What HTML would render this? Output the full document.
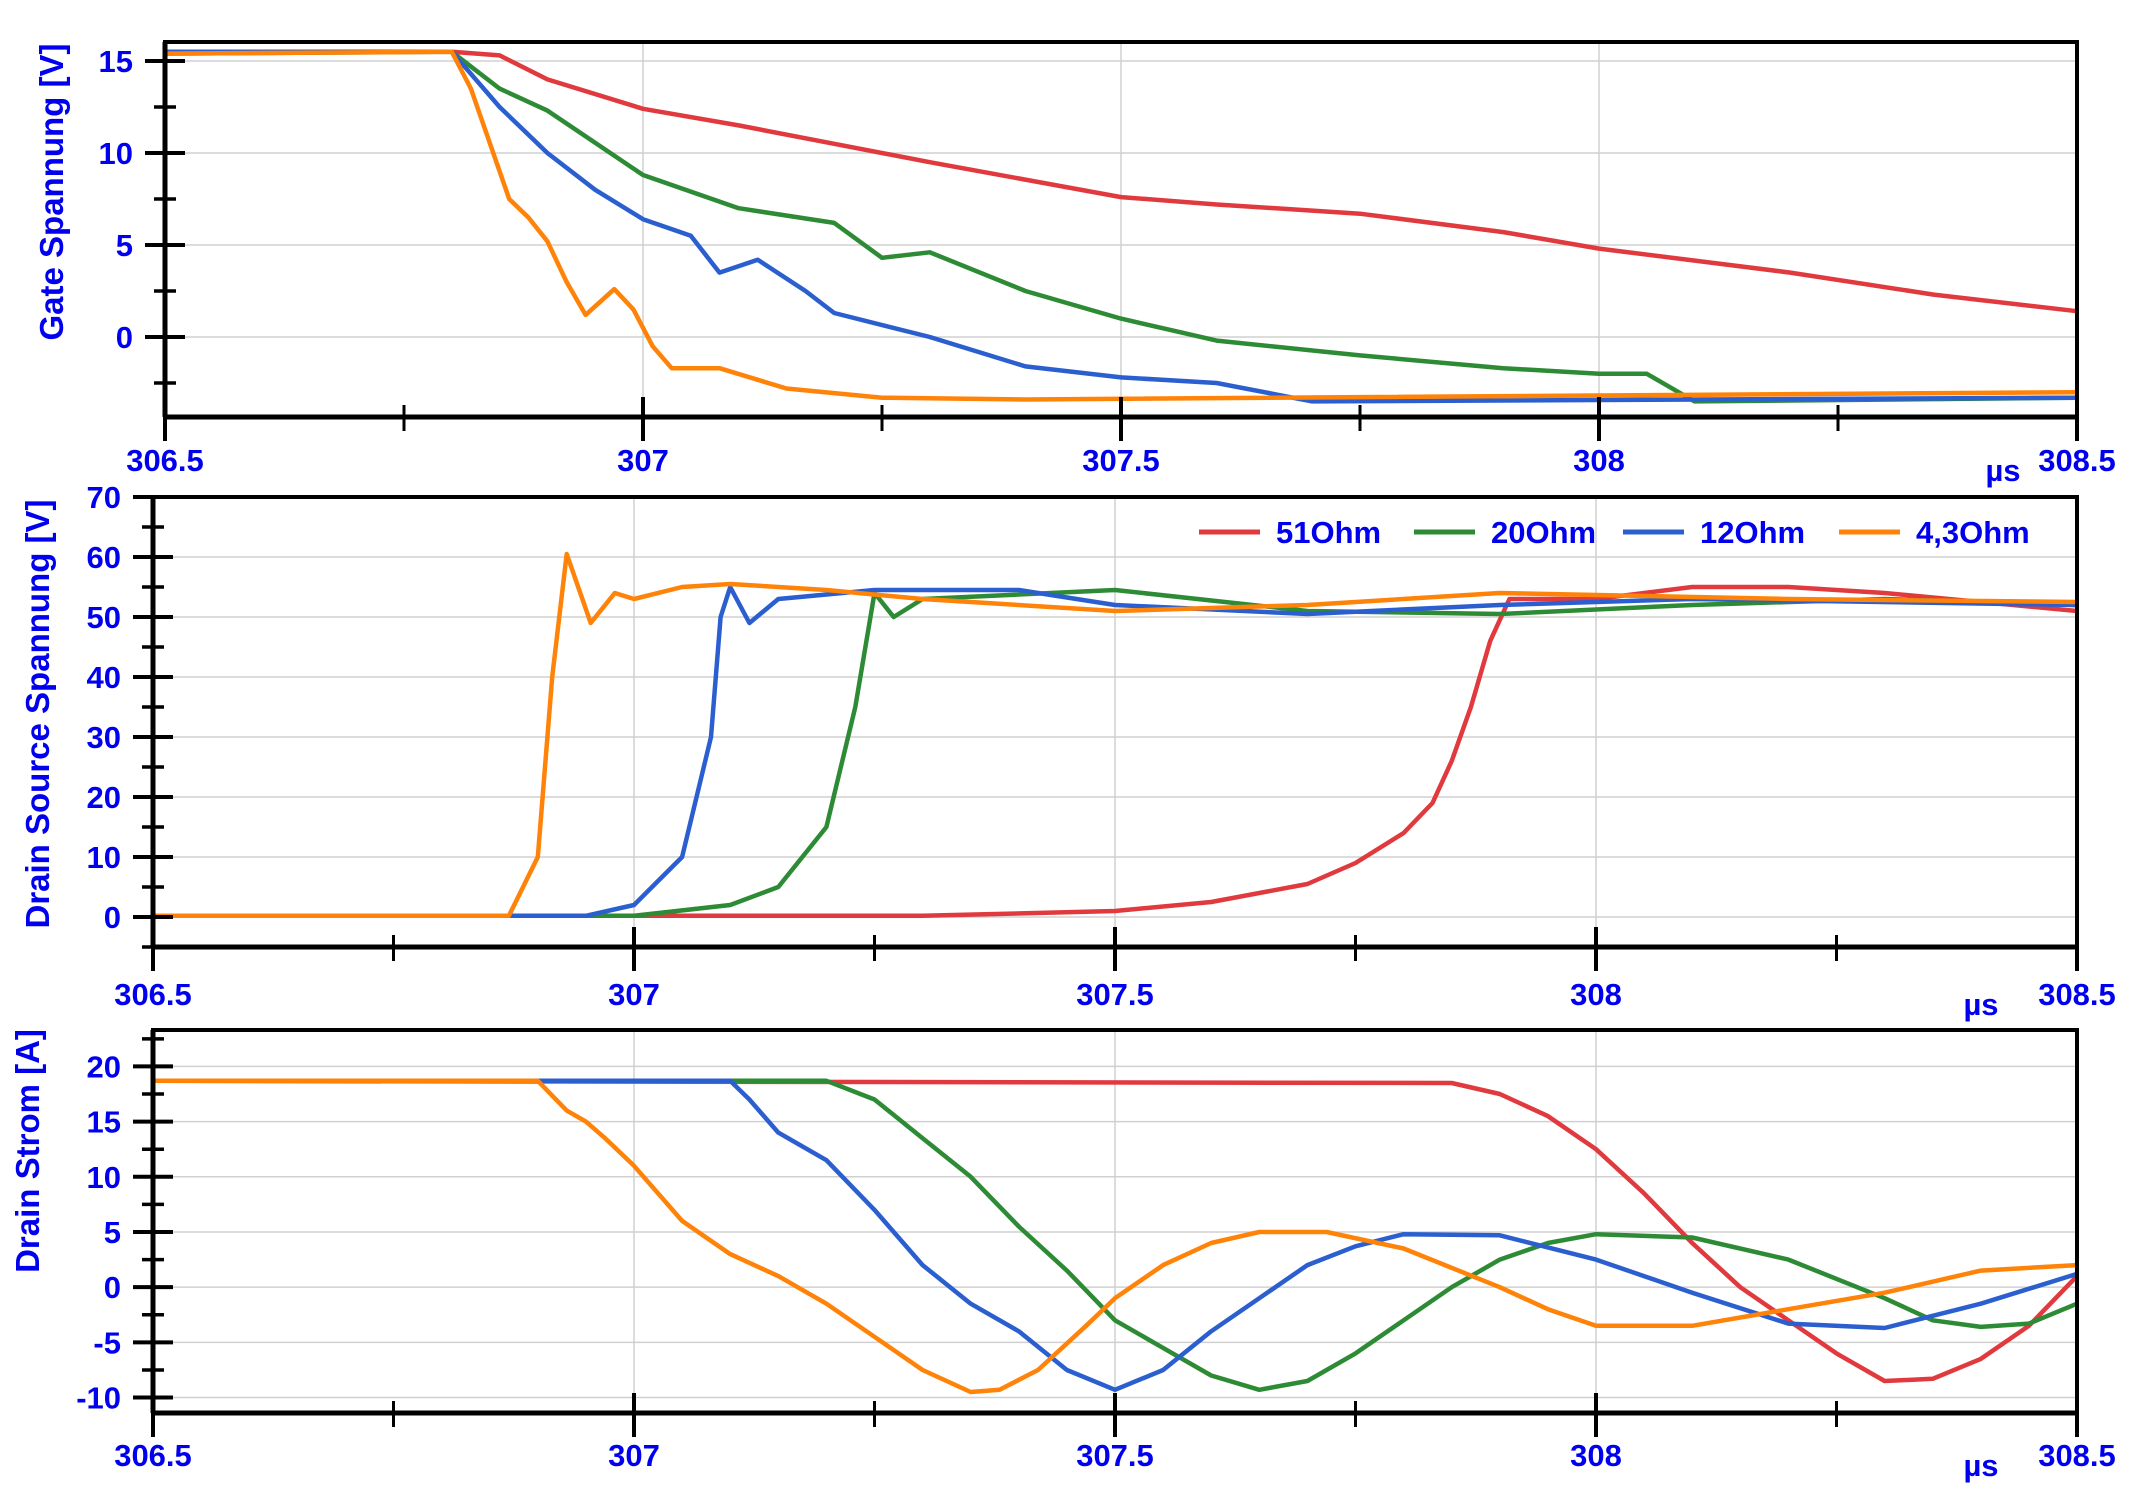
<!DOCTYPE html>
<html><head><meta charset="utf-8"><style>
html,body{margin:0;padding:0;background:#fff;}
svg{display:block;font-family:"Liberation Sans",sans-serif;font-weight:bold;}
</style></head><body>
<svg id="chart" width="2142" height="1500" viewBox="0 0 2142 1500" xmlns="http://www.w3.org/2000/svg"></svg>
<script>
// ---- data ----
const xTicks = [306.5, 307, 307.5, 308, 308.5];
const xTickLabels = ["306.5", "307", "307.5", "308", "308.5"];
const seriesNames = ["51Ohm", "20Ohm", "12Ohm", "4,3Ohm"];

// Gate Spannung [V]
const gateRedT = [306.5,306.8,306.85,306.9,307.0,307.1,307.2,307.3,307.5,307.6,307.75,307.9,308.0,308.2,308.35,308.5];
const gateRedV = [15.5,15.5,15.3,14.0,12.4,11.5,10.5,9.5,7.6,7.2,6.7,5.7,4.8,3.5,2.3,1.4];
const gateGreenT = [306.5,306.8,306.85,306.9,307.0,307.1,307.2,307.25,307.3,307.4,307.5,307.6,307.75,307.9,308.0,308.05,308.1,308.5];
const gateGreenV = [15.4,15.5,13.5,12.3,8.8,7.0,6.2,4.3,4.6,2.5,1.0,-0.2,-1.0,-1.7,-2.0,-2.0,-3.5,-3.3];
const gateBlueT = [306.5,306.8,306.85,306.9,306.95,307.0,307.05,307.08,307.12,307.17,307.2,307.3,307.4,307.5,307.6,307.7,308.5];
const gateBlueV = [15.5,15.5,12.5,10.0,8.0,6.4,5.5,3.5,4.2,2.5,1.3,0,-1.6,-2.2,-2.5,-3.5,-3.3];
const gateOrangeT = [306.5,306.8,306.82,306.86,306.88,306.9,306.92,306.94,306.97,306.99,307.01,307.03,307.08,307.15,307.25,307.4,308.5];
const gateOrangeV = [15.4,15.5,13.5,7.5,6.5,5.2,3.0,1.2,2.6,1.5,-0.5,-1.7,-1.7,-2.8,-3.3,-3.4,-3.0];

// Drain Source Spannung [V]
const vdsRedT = [306.5,307.3,307.5,307.6,307.7,307.75,307.8,307.83,307.85,307.87,307.89,307.91,308.0,308.1,308.2,308.3,308.5];
const vdsRedV = [0.2,0.2,1,2.5,5.5,9,14,19,26,35,46,53,53,55,55,54,51];
const vdsGreenT = [306.5,307.0,307.1,307.15,307.2,307.23,307.25,307.27,307.3,307.5,307.7,307.9,308.1,308.3,308.5];
const vdsGreenV = [0.2,0.2,2,5,15,35,54,50,53,54.5,51,50.5,52,53,52];
const vdsBlueT = [306.5,306.95,307.0,307.05,307.08,307.09,307.1,307.12,307.15,307.25,307.4,307.5,307.7,307.9,308.1,308.5];
const vdsBlueV = [0.2,0.2,2,10,30,50,55,49,53,54.5,54.5,52,50.5,52,53,52];
const vdsOrangeT = [306.5,306.87,306.9,306.915,306.93,306.955,306.98,307.0,307.05,307.1,307.2,307.3,307.5,307.7,307.9,308.2,308.5];
const vdsOrangeV = [0.2,0.2,10,40,60.5,49,54,53,55,55.5,54.5,53,51,52,54,53,52.5];

// Drain Strom [A]
const idRedT = [306.5,307.85,307.9,307.95,308.0,308.05,308.1,308.15,308.2,308.25,308.3,308.35,308.4,308.45,308.5];
const idRedV = [18.7,18.5,17.5,15.5,12.5,8.5,4,0,-3,-6,-8.5,-8.3,-6.5,-3.5,1];
const idGreenT = [306.5,307.2,307.25,307.3,307.35,307.4,307.45,307.5,307.55,307.6,307.65,307.7,307.75,307.8,307.85,307.9,307.95,308.0,308.1,308.2,308.3,308.35,308.4,308.45,308.5];
const idGreenV = [18.7,18.7,17,13.5,10,5.5,1.5,-3,-5.5,-8,-9.3,-8.5,-6,-3,0,2.5,4,4.8,4.5,2.5,-1,-3,-3.6,-3.3,-1.5];
const idBlueT = [306.5,307.1,307.12,307.15,307.2,307.25,307.3,307.35,307.4,307.45,307.5,307.55,307.6,307.65,307.7,307.75,307.8,307.9,308.0,308.1,308.2,308.3,308.4,308.5];
const idBlueV = [18.7,18.7,17,14,11.5,7,2,-1.5,-4,-7.5,-9.3,-7.5,-4,-1,2,3.7,4.8,4.7,2.5,-0.5,-3.3,-3.7,-1.5,1.2];
const idOrangeT = [306.5,306.9,306.93,306.95,306.97,307.0,307.05,307.1,307.15,307.2,307.25,307.3,307.35,307.38,307.42,307.47,307.5,307.55,307.6,307.65,307.72,307.8,307.9,307.95,308.0,308.1,308.2,308.3,308.4,308.5];
const idOrangeV = [18.7,18.7,16,15,13.5,11,6,3,1,-1.5,-4.5,-7.5,-9.5,-9.3,-7.5,-3.5,-1,2,4,5,5,3.5,0,-2,-3.5,-3.5,-2,-0.5,1.5,2];

const gateTicks = [0,5,10,15];
const vdsTicks = [0,10,20,30,40,50,60,70];
const idTicks = [-10,-5,0,5,10,15,20];

// ---- drawing ----
const NS = "http://www.w3.org/2000/svg";
const svg = document.getElementById('chart');
const COLORS = ["#e03a3e","#2e8b35","#2b5fcf","#ff8308"];
const BLUE = "#0000ee";
function mk(tag, attrs, parent){
  const e = document.createElementNS(NS, tag);
  for (const k in attrs) e.setAttribute(k, attrs[k]);
  (parent||svg).appendChild(e);
  return e;
}
function panel(cfg){
  const g = mk('g', {});
  
  
  const xs = t => cfg.left + (t - 306.5) / 2 * (cfg.right - cfg.left);
  const ys = v => cfg.top + (cfg.ymax - v) / (cfg.ymax - cfg.ymin) * (cfg.bottom - cfg.top);
  xTicks.forEach(t => {
    const l = mk('line', {x1:xs(t),x2:xs(t),y1:cfg.top,y2:cfg.bottom,stroke:"#d0d0d0","stroke-width":1.5}, g);
    
    
  });
  cfg.ticks.forEach(v => {
    const l = mk('line', {x1:cfg.left,x2:cfg.right,y1:ys(v),y2:ys(v),stroke:"#d0d0d0","stroke-width":1.5}, g);
    
    
  });
  cfg.series.forEach((s, i) => {
    const d = s[0].map((t, j) => (j ? 'L' : 'M') + xs(t).toFixed(1) + ',' + ys(s[1][j]).toFixed(1)).join(' ');
    const p = mk('path', {d:d, fill:"none", stroke:COLORS[i], "stroke-width":4.5, "stroke-linejoin":"round"}, g);
    
    
  });
  const fr = mk('rect', {x:cfg.left,y:cfg.top,width:cfg.right-cfg.left,height:cfg.bottom-cfg.top,fill:"none",stroke:"#000","stroke-width":4}, g);
  
  
  mk('line', {x1:cfg.left,x2:cfg.left,y1:cfg.top,y2:cfg.bottom,stroke:"#000","stroke-width":5}, g);
  mk('line', {x1:cfg.left,x2:cfg.right,y1:cfg.bottom,y2:cfg.bottom,stroke:"#000","stroke-width":5}, g);
  xTicks.forEach((t, i) => {
    mk('line', {x1:xs(t),x2:xs(t),y1:cfg.bottom-20,y2:cfg.bottom+24,stroke:"#000","stroke-width":4}, g);
    if (i < xTicks.length - 1) mk('line', {x1:xs(t+0.25),x2:xs(t+0.25),y1:cfg.bottom-12,y2:cfg.bottom+14,stroke:"#000","stroke-width":3}, g);
    const tx = mk('text', {x:xs(t), y:cfg.labelY, "text-anchor":"middle", "font-size":31, fill:BLUE}, g);
    tx.textContent = xTickLabels[i];
    
    
  });
  const mu = mk('text', {x:cfg.muX, y:cfg.labelY+10, "text-anchor":"middle", "font-size":31, fill:BLUE}, g);
  mu.textContent = "µs";
  
  
  cfg.ticks.forEach(v => {
    mk('line', {x1:cfg.left-20,x2:cfg.left+20,y1:ys(v),y2:ys(v),stroke:"#000","stroke-width":4}, g);
    const tx = mk('text', {x:cfg.left-32, y:ys(v)+11, "text-anchor":"end", "font-size":31, fill:BLUE}, g);
    tx.textContent = String(v);
    
    
  });
  for (let v = cfg.ticks[0] - cfg.step/2; v < cfg.ymax; v += cfg.step) {
    if (v < cfg.ymin) continue;
    mk('line', {x1:cfg.left-11,x2:cfg.left+11,y1:ys(v),y2:ys(v),stroke:"#000","stroke-width":3.5}, g);
  }
  const tt = mk('text', {x:0, y:0, "text-anchor":"middle", "font-size":33, fill:BLUE, transform:`translate(${cfg.titleX},${cfg.titleY}) rotate(-90)`}, g);
  tt.textContent = cfg.title;
  
  
  return {xs, ys, g};
}

panel({name:'gate-voltage-panel', left:165, right:2077, top:42, bottom:417, ymin:-4.35, ymax:16.03, ticks:gateTicks, step:5,
  labelY:471, muX:2003, title:"Gate Spannung [V]", titleX:63, titleY:192,
  series:[[gateRedT,gateRedV],[gateGreenT,gateGreenV],[gateBlueT,gateBlueV],[gateOrangeT,gateOrangeV]]});
panel({name:'drain-source-voltage-panel', left:153, right:2077, top:497, bottom:947, ymin:-5, ymax:70, ticks:vdsTicks, step:10,
  labelY:1005, muX:1981, title:"Drain Source Spannung [V]", titleX:49, titleY:714,
  series:[[vdsRedT,vdsRedV],[vdsGreenT,vdsGreenV],[vdsBlueT,vdsBlueV],[vdsOrangeT,vdsOrangeV]]});
panel({name:'drain-current-panel', left:153, right:2077, top:1030, bottom:1413, ymin:-11.4, ymax:23.3, ticks:idTicks, step:5,
  labelY:1466, muX:1981, title:"Drain Strom [A]", titleX:39, titleY:1151,
  series:[[idRedT,idRedV],[idGreenT,idGreenV],[idBlueT,idBlueV],[idOrangeT,idOrangeV]]});

const leg = mk('g', {});


const legLineX = [1199, 1414, 1623, 1839];
seriesNames.forEach((n, i) => {
  const e = mk('g', {}, leg);
  
  
  mk('line', {x1:legLineX[i], x2:legLineX[i]+61, y1:532, y2:532, stroke:COLORS[i], "stroke-width":5}, e);
  const t = mk('text', {x:legLineX[i]+77, y:543, "font-size":31, fill:BLUE}, e);
  t.textContent = n;
});
</script>
</body></html>
